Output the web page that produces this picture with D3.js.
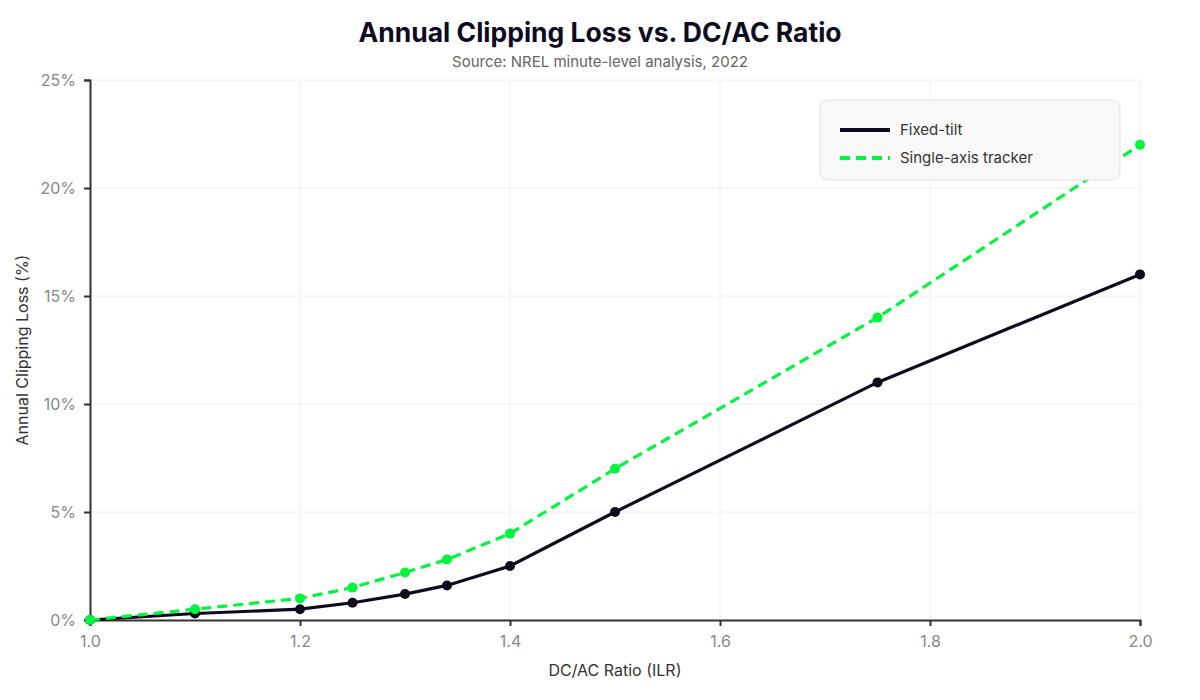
<!DOCTYPE html>
<html>
<head>
<meta charset="utf-8">
<script src="https://cdn.jsdelivr.net/npm/d3@7"></script>
<style>
  body { margin: 0; background: #fff; font-family: Inter, "Noto Sans", sans-serif; }
</style>
</head>
<body>
<svg id="chart"></svg>
<script>
const ratios = [1.0, 1.1, 1.2, 1.25, 1.3, 1.34, 1.4, 1.5, 1.75, 2.0];
const fixedTilt = [0, 0.3, 0.5, 0.8, 1.2, 1.6, 2.5, 5, 11, 16];
const tracker = [0, 0.5, 1.0, 1.5, 2.2, 2.8, 4.0, 7.0, 14, 22];
const seriesNames = ['Fixed-tilt', 'Single-axis tracker'];
const xTicks = [1.0, 1.2, 1.4, 1.6, 1.8, 2.0];
const yTicks = [0, 5, 10, 15, 20, 25];

const width = 1200;
const height = 700;
const margin = {top: 80, right: 60, bottom: 80, left: 90};

const series = [
    {name: seriesNames[0], values: fixedTilt, color: '#0e0b1f', dash: null},
    {name: seriesNames[1], values: tracker, color: '#00f53d', dash: '10,6'}
];

const svg = d3.select('#chart')
    .attr('width', width)
    .attr('height', height);

const xScale = d3.scaleLinear()
    .domain([1.0, 2.0])
    .range([margin.left, width - margin.right]);

const yScale = d3.scaleLinear()
    .domain([0, 25])
    .range([height - margin.bottom, margin.top]);

// grid
svg.append('g')
    .selectAll('line')
    .data(xTicks)
    .enter()
    .append('line')
    .attr('x1', d => xScale(d))
    .attr('x2', d => xScale(d))
    .attr('y1', margin.top)
    .attr('y2', height - margin.bottom)
    .attr('stroke', '#f0f0f0')
    .attr('stroke-width', 1);

svg.append('g')
    .selectAll('line')
    .data(yTicks)
    .enter()
    .append('line')
    .attr('x1', margin.left)
    .attr('x2', width - margin.right)
    .attr('y1', d => yScale(d))
    .attr('y2', d => yScale(d))
    .attr('stroke', '#f0f0f0')
    .attr('stroke-width', 1);

const xAxis = d3.axisBottom(xScale)
    .tickValues(xTicks)
    .tickFormat(d3.format('.1f'))
    .tickSize(6)
    .tickPadding(10);
const yAxis = d3.axisLeft(yScale)
    .tickValues(yTicks)
    .tickFormat(d => d + '%')
    .tickSize(6)
    .tickPadding(8);

const gx = svg.append('g')
    .attr('transform', 'translate(0,' + (height - margin.bottom) + ')')
    .call(xAxis);
const gy = svg.append('g')
    .attr('transform', 'translate(' + margin.left + ',0)')
    .call(yAxis);

[gx, gy].forEach(g => {
    g.select('.domain').attr('stroke', '#333').attr('stroke-width', 2);
    g.selectAll('.tick line').attr('stroke', '#333').attr('stroke-width', 2);
    g.selectAll('.tick text')
        .attr('fill', '#888')
        .style('font-family', 'Inter, sans-serif')
        .style('font-size', '16px');
});

// lines
const line = d3.line()
    .x((d, i) => xScale(ratios[i]))
    .y(d => yScale(d));

series.forEach(s => {
    svg.append('path')
        .datum(s.values)
        .attr('fill', 'none')
        .attr('stroke', s.color)
        .attr('stroke-width', 3.2)
        .attr('stroke-dasharray', s.dash)
        .attr('d', line);

    svg.append('g')
        .selectAll('circle')
        .data(s.values)
        .enter()
        .append('circle')
        .attr('cx', (d, i) => xScale(ratios[i]))
        .attr('cy', d => yScale(d))
        .attr('r', 5)
        .attr('fill', s.color);
});

// titles
svg.append('text')
    .attr('x', width / 2)
    .attr('y', 42)
    .style('text-anchor', 'middle')
    .style('font-size', '26.5px')
    .style('font-weight', 'bold')
    .attr('fill', '#0e0b1f')
    .text('Annual Clipping Loss vs. DC/AC Ratio');

svg.append('text')
    .attr('x', width / 2)
    .attr('y', 67)
    .style('text-anchor', 'middle')
    .style('font-size', '15px')
    .attr('fill', '#666')
    .text('Source: NREL minute-level analysis, 2022');

svg.append('text')
    .attr('x', (margin.left + width - margin.right) / 2)
    .attr('y', 676)
    .style('text-anchor', 'middle')
    .style('font-size', '16px')
    .attr('fill', '#333')
    .text('DC/AC Ratio (ILR)');

svg.append('text')
    .attr('transform', 'rotate(-90)')
    .attr('x', -(margin.top + height - margin.bottom) / 2)
    .attr('y', 28)
    .style('text-anchor', 'middle')
    .style('font-size', '16px')
    .attr('fill', '#333')
    .text('Annual Clipping Loss (%)');

// legend
const legend = svg.append('g')
    .attr('transform', 'translate(820,100)');

legend.append('rect')
    .attr('width', 300)
    .attr('height', 80)
    .attr('rx', 8)
    .attr('fill', '#f8f8f8')
    .attr('stroke', '#e3e3e3');

series.forEach((s, i) => {
    legend.append('line')
        .attr('x1', 20)
        .attr('x2', 70)
        .attr('y1', 30 + i * 28)
        .attr('y2', 30 + i * 28)
        .attr('stroke', s.color)
        .attr('stroke-width', 4)
        .attr('stroke-dasharray', s.dash);
    legend.append('text')
        .attr('x', 80)
        .attr('y', 30 + i * 28)
        .attr('dy', '0.35em')
        .style('font-size', '15px')
        .attr('fill', '#333')
        .text(s.name);
});
</script>
</body>
</html>
